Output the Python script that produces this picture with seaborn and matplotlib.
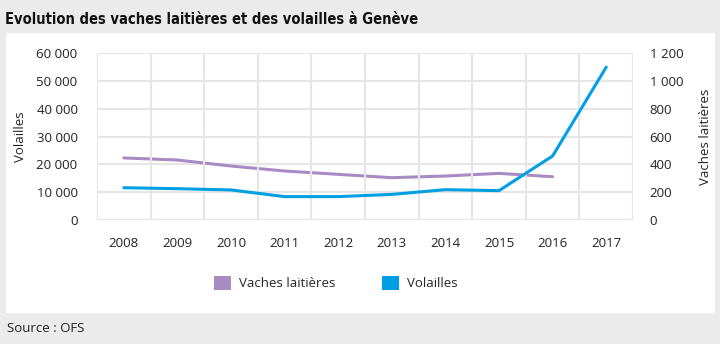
import matplotlib
matplotlib.use("Agg")
import matplotlib.pyplot as plt
from matplotlib.patches import Rectangle, Patch
from matplotlib.ticker import FuncFormatter, MultipleLocator
import seaborn as sns
import pandas as pd
import numpy as np

years = [2008, 2009, 2010, 2011, 2012, 2013, 2014, 2015, 2016, 2017]
volailles = [11600, 11250, 10800, 8400, 8400, 9200, 10900, 10550, 23000, 54900]
vaches_years = [2008, 2009, 2010, 2011, 2012, 2013, 2014, 2015, 2016]
vaches = [446, 431, 388, 352, 328, 304, 316, 335, 311]

title = "Evolution des vaches laitières et des volailles à Genève"
source = "Source : OFS"
purple = "#a98bc3"
blue = "#009fe3"

sns.set_theme(style="white")
plt.rcParams["font.family"] = ["Open Sans", "DejaVu Sans"]

fig = plt.figure(figsize=(7.2, 3.44), dpi=100)
fig.patch.set_facecolor("#ebebeb")
fig.patches.append(Rectangle((6/720, 1-313/344), 709/720, 280/344,
                             transform=fig.transFigure, facecolor="white",
                             edgecolor="none", zorder=-10))

ax = fig.add_axes([97/720, 1-220/344, 536/720, 167/344])
df_v = pd.DataFrame({"year": years, "val": volailles})
df_c = pd.DataFrame({"year": vaches_years, "val": vaches})

sns.lineplot(data=df_v, x="year", y="val", ax=ax, color=blue, linewidth=2.2, zorder=5)
ax2 = ax.twinx()
sns.lineplot(data=df_c, x="year", y="val", ax=ax2, color=purple, linewidth=2.2, zorder=4)
ax.set_zorder(2)
ax2.set_zorder(1)
ax.patch.set_visible(False)
ax2.patch.set_visible(False)

ax.set_xlim(2007.5, 2017.5)
ax.set_ylim(0, 60000)
ax2.set_ylim(0, 1200)
ax.set_yticks(np.arange(0, 60001, 10000))
ax2.set_yticks(np.arange(0, 1201, 200))
fmt = FuncFormatter(lambda v, p: f"{int(v):,}".replace(",", " "))
ax.yaxis.set_major_formatter(fmt)
ax2.yaxis.set_major_formatter(fmt)
ax.set_xticks(years)
ax.set_xticklabels([str(y) for y in years])
ax.xaxis.set_minor_locator(MultipleLocator(1, offset=0.5))

gc = "#e6e6e6"
ax2.grid(axis="y", color=gc, linewidth=1.5)
ax2.grid(axis="x", visible=False)
ax.grid(axis="x", which="minor", color=gc, linewidth=1.5)
ax.grid(axis="x", which="major", visible=False)
ax.grid(axis="y", visible=False)
ax.set_axisbelow(True)
ax2.set_axisbelow(True)
for a in (ax, ax2):
    for s in a.spines.values():
        s.set_visible(False)
ax.tick_params(axis="x", which="major", length=0, pad=12, labelsize=9.5, colors="#222222")
ax.tick_params(axis="x", which="minor", length=8, width=1.5, color=gc, direction="out")
ax.tick_params(axis="y", length=0, pad=14, labelsize=9.5, colors="#222222")
ax2.tick_params(axis="y", length=0, pad=12, labelsize=9.5, colors="#222222")

ax.set_xlabel("")
ax.set_ylabel("Volailles", fontsize=9.5, color="#222222", labelpad=7)
ax2.set_ylabel("Vaches laitières", fontsize=9.5, color="#222222", labelpad=11)

handles = [Patch(facecolor=purple, edgecolor="none"), Patch(facecolor=blue, edgecolor="none")]
fig.legend(handles, ["Vaches laitières", "Volailles"], loc="center",
           bbox_to_anchor=(336/720, 1-283/344), ncol=2, frameon=False,
           fontsize=9.5, handlelength=1.3, handleheight=1.3, columnspacing=3.5,
           handletextpad=0.6)

fig.text(5/720, 1-19/344, title, fontsize=10.5, fontweight="bold", fontstretch="condensed",
         family=["DejaVu Sans"], va="center", ha="left", color="#111111")
fig.text(7/720, 1-329/344, source, fontsize=9.5, va="center", ha="left", color="#222222")

fig.savefig("out.png", dpi=100, facecolor=fig.get_facecolor())
